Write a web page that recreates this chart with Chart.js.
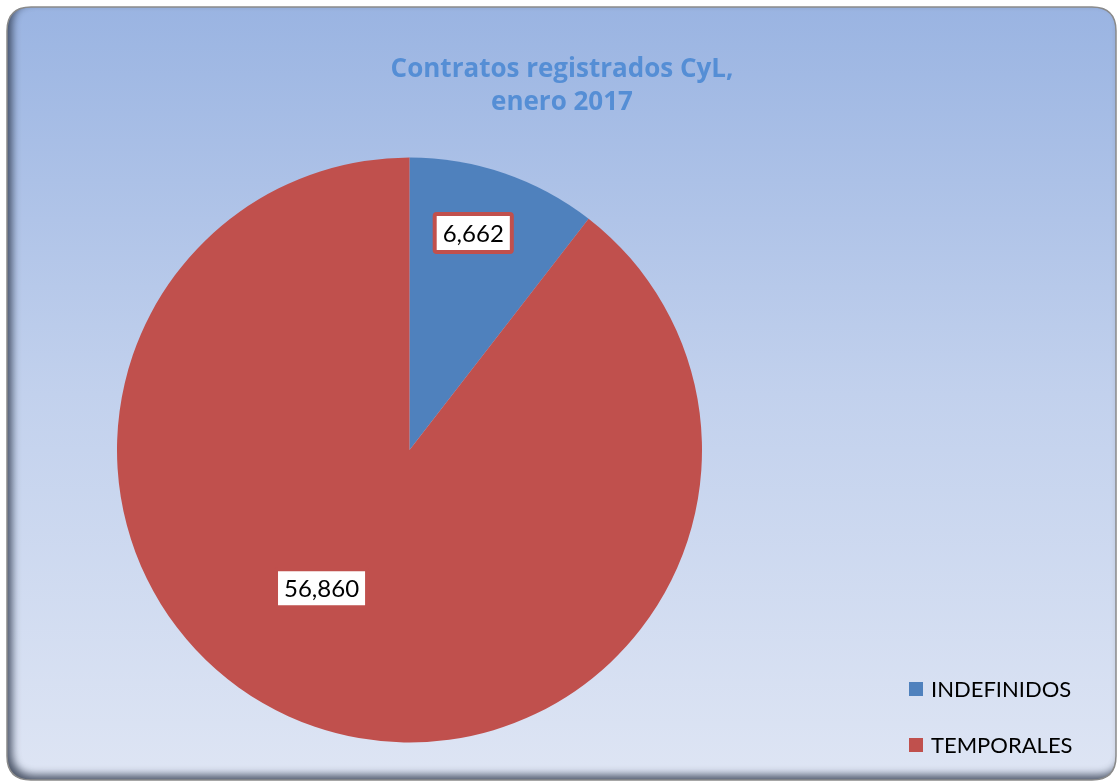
<!DOCTYPE html>
<html>
<head>
<meta charset="utf-8">
<script src="https://cdn.jsdelivr.net/npm/chart.js@4.4.1/dist/chart.umd.min.js"></script>
<style>
  html, body { margin: 0; padding: 0; background: #ffffff; }
  #wrap { width: 1117px; height: 782px; }
</style>
</head>
<body>
<div id="wrap"><canvas id="pie" width="1117" height="782"></canvas></div>
<script>
  "use strict";

  var titleLines = ["Contratos registrados CyL,", "enero 2017"];
  var categories = ["INDEFINIDOS", "TEMPORALES"];
  var contratos = [6662, 56860];
  var sliceColors = ["#4f81bd", "#c0504d"];

  function roundRectPath(ctx, x, y, w, h, r) {
    ctx.moveTo(x + r, y);
    ctx.lineTo(x + w - r, y);
    ctx.quadraticCurveTo(x + w, y, x + w, y + r);
    ctx.lineTo(x + w, y + h - r);
    ctx.quadraticCurveTo(x + w, y + h, x + w - r, y + h);
    ctx.lineTo(x + r, y + h);
    ctx.quadraticCurveTo(x, y + h, x, y + h - r);
    ctx.lineTo(x, y + r);
    ctx.quadraticCurveTo(x, y, x + r, y);
    ctx.closePath();
  }

  function roundRect(ctx, x, y, w, h, r) {
    ctx.beginPath();
    roundRectPath(ctx, x, y, w, h, r);
  }

  // panel background with gradient + inner shadow on left / bottom
  var framePlugin = {
    id: "frame",
    beforeDraw: function (chart) {
      var ctx = chart.ctx;
      var x = 7, y = 7, w = 1109, h = 773, r = 24;
      ctx.save();
      var grad = ctx.createLinearGradient(0, y, 0, y + h);
      grad.addColorStop(0, "#9ab4e2");
      grad.addColorStop(0.5, "#c2d1ed");
      grad.addColorStop(1, "#dee5f4");
      roundRect(ctx, x, y, w, h, r);
      ctx.fillStyle = grad;
      ctx.fill();

      ctx.save();
      roundRect(ctx, x, y, w, h, r);
      ctx.clip();
      ctx.beginPath();
      ctx.rect(x - 200, y - 200, w + 400, h + 400);
      roundRectPath(ctx, x, y, w, h, r);
      ctx.fillStyle = "rgba(60,70,90,1)";
      ctx.shadowColor = "rgba(40,50,70,0.8)";
      ctx.shadowBlur = 9;
      ctx.shadowOffsetX = 5;
      ctx.shadowOffsetY = -5;
      ctx.fill("evenodd");
      ctx.restore();

      roundRect(ctx, x, y, w, h, r);
      ctx.strokeStyle = "#8a8a8a";
      ctx.lineWidth = 1.5;
      ctx.stroke();
      ctx.restore();
    }
  };

  // title, boxed value labels and legend
  var textPlugin = {
    id: "texts",
    afterDraw: function (chart, args, opts) {
      var ctx = chart.ctx;
      ctx.save();
      ctx.fillStyle = "#558ed5";
      ctx.font = "bold 26px 'Open Sans', sans-serif";
      ctx.textAlign = "center";
      ctx.textBaseline = "alphabetic";
      titleLines.forEach(function (line, i) {
        ctx.fillText(line, 562, 77 + i * 33);
      });

      var meta = chart.getDatasetMeta(0);
      ctx.font = "24px Lato, sans-serif";
      ctx.textBaseline = "middle";
      meta.data.forEach(function (arc, i) {
        var p = arc.getProps(["x", "y", "startAngle", "endAngle", "outerRadius"], true);
        var mid = (p.startAngle + p.endAngle) / 2 + opts.angleShift[i] * Math.PI / 180;
        var rr = p.outerRadius * opts.radius[i];
        var cx = p.x + Math.cos(mid) * rr;
        var cy = p.y + Math.sin(mid) * rr;
        var txt = contratos[i].toLocaleString("en-US");
        var tw = ctx.measureText(txt).width;
        var bw = tw + 16, bh = 38;
        ctx.fillStyle = "#ffffff";
        ctx.strokeStyle = "#c0504d";
        ctx.lineWidth = 4;
        roundRect(ctx, cx - bw / 2, cy - bh / 2, bw, bh, 2);
        ctx.fill();
        ctx.stroke();
        ctx.fillStyle = "#000000";
        ctx.fillText(txt, cx, cy + 1);
      });

      ctx.textAlign = "left";
      ctx.font = "22px Lato, sans-serif";
      categories.forEach(function (c, i) {
        var ly = 689 + i * 56;
        ctx.fillStyle = sliceColors[i];
        ctx.fillRect(909, ly - 7, 14, 14);
        ctx.fillStyle = "#000000";
        ctx.fillText(c, 931, ly + 1);
      });
      ctx.restore();
    }
  };

  new Chart(document.getElementById("pie"), {
    type: "pie",
    data: {
      labels: categories,
      datasets: [{
        data: contratos,
        backgroundColor: sliceColors,
        borderWidth: 0,
        hoverOffset: 0
      }]
    },
    options: {
      responsive: false,
      animation: false,
      layout: { padding: { left: 117, right: 415, top: 157, bottom: 39 } },
      plugins: {
        legend: { display: false },
        tooltip: { enabled: false },
        texts: { angleShift: [-2.5, 13.6], radius: [0.773, 0.56] }
      }
    },
    plugins: [framePlugin, textPlugin]
  });
</script>
</body>
</html>
